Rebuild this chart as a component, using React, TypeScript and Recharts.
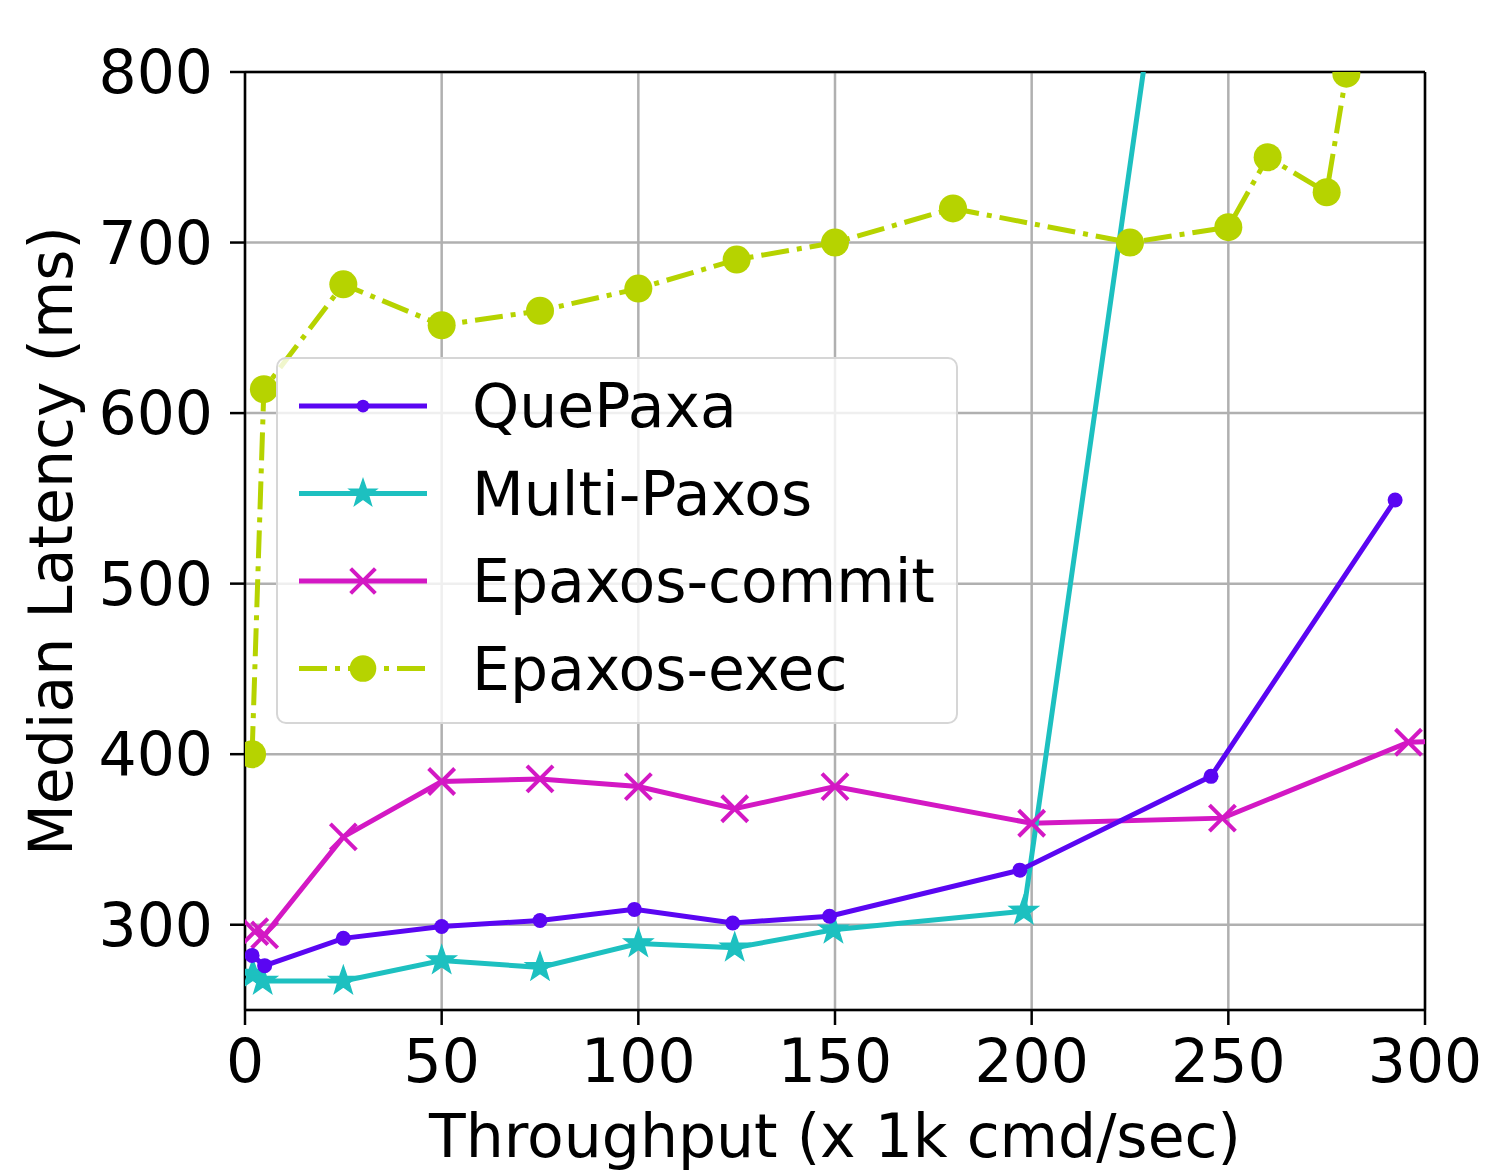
import React from 'react';
import { LineChart, Line, XAxis, YAxis, CartesianGrid, ReferenceLine } from 'recharts';

const xTicks = [0, 50, 100, 150, 200, 250, 300];
const yTicks = [300, 400, 500, 600, 700, 800];

const quepaxaX = [1.8, 5, 25, 50, 75, 99, 124, 148.6, 197, 245.6, 292.4];
const quepaxaY = [282, 276, 292, 299, 302.5, 309, 301, 305, 332, 387, 549];

const multiX = [2, 4.5, 25, 50, 75, 100, 124.5, 149.6, 198, 250];
const multiY = [271, 267, 267, 279, 275, 289, 286.5, 297, 308, 1150];

const commitX = [2.5, 5, 25, 50, 75, 100, 124.5, 150, 200, 248.5, 295.8, 310];
const commitY = [296, 294, 351.5, 384, 385.5, 381, 368, 381, 359.5, 362.5, 407, 408];

const execX = [1.8, 4.8, 25, 50, 75, 100, 125, 150, 180, 225, 250, 260, 275, 280];
const execY = [400, 614, 675.5, 651.5, 660, 673, 690, 700, 720, 700, 709, 750, 729.5, 799];

const seriesNames = ['QuePaxa', 'Multi-Paxos', 'Epaxos-commit', 'Epaxos-exec'];
const colors = ['#5a06f2', '#1dc0c0', '#d318c4', '#b6d300'];

const zip = (xs: number[], ys: number[]) => xs.map((x, i) => ({ x, y: ys[i] }));

const FONT = '"DejaVu Sans", sans-serif';
const LW = 5;

function starPoints(cx: number, cy: number, ro: number, ri: number) {
  const pts: string[] = [];
  for (let i = 0; i < 10; i++) {
    const r = i % 2 === 0 ? ro : ri;
    const a = -Math.PI / 2 + (i * Math.PI) / 5;
    pts.push(`${cx + r * Math.cos(a)},${cy + r * Math.sin(a)}`);
  }
  return pts.join(' ');
}

function Marker({ kind, cx, cy, color, scale = 1 }: { kind: number; cx: number; cy: number; color: string; scale?: number }) {
  if (kind === 0) return <circle cx={cx} cy={cy} r={7.5 * scale} fill={color} />;
  if (kind === 1) return <polygon points={starPoints(cx, cy, 15 * scale, 6 * scale)} fill={color} stroke={color} strokeWidth={1.5} />;
  if (kind === 2) {
    const s = 13 * scale;
    return (
      <g stroke={color} strokeWidth={4}>
        <line x1={cx - s} y1={cy - s} x2={cx + s} y2={cy + s} />
        <line x1={cx - s} y1={cy + s} x2={cx + s} y2={cy - s} />
      </g>
    );
  }
  return <circle cx={cx} cy={cy} r={14 * scale} fill={color} />;
}

const makeDot = (kind: number) => (props: any) => {
  const { cx, cy, index } = props;
  if (cx == null || cy == null) return <g key={`d${kind}-${index}`} />;
  return (
    <g key={`d${kind}-${index}`}>
      <Marker kind={kind} cx={cx} cy={cy} color={colors[kind]} />
    </g>
  );
};

const LegendBox = () => (
  <div
    style={{
      position: 'absolute',
      left: 276,
      top: 357,
      width: 682,
      height: 367,
      boxSizing: 'border-box',
      border: '2px solid #d6d6d6',
      borderRadius: 10,
      background: 'rgba(255,255,255,0.8)',
    }}
  >
    <svg width={680} height={365} style={{ position: 'absolute', left: 0, top: 0 }}>
      {seriesNames.map((name, i) => {
        const y = 47 + i * 87.5;
        return (
          <g key={name}>
            <line
              x1={21}
              y1={y}
              x2={149}
              y2={y}
              stroke={colors[i]}
              strokeWidth={LW}
              strokeDasharray={i === 3 ? '28 8 5 8' : undefined}
            />
            <Marker kind={i} cx={85} cy={y} color={colors[i]} scale={i === 0 ? 0.85 : 0.95} />
            <text x={194} y={y + 21} fontSize={60} fontFamily={FONT} fill="#000">
              {name}
            </text>
          </g>
        );
      })}
    </svg>
  </div>
);

export default function App() {
  return (
    <div style={{ position: 'absolute', left: 0, top: 0, width: 1487, height: 1170, background: '#fff' }}>
      <LineChart width={1487} height={1170} margin={{ top: 72, right: 62, left: 0, bottom: 0 }}>
        <CartesianGrid stroke="#b0b0b0" strokeWidth={2.5} />
        <XAxis
          type="number"
          dataKey="x"
          domain={[0, 300]}
          ticks={xTicks}
          allowDataOverflow
          height={160}
          axisLine={{ stroke: '#000', strokeWidth: 2.5 }}
          tickLine={{ stroke: '#000', strokeWidth: 2.5 }}
          tickSize={15}
          tickMargin={14}
          tick={{ fill: '#000', fontSize: 60, fontFamily: FONT }}
          label={(p: any) => {
            const vb = p.viewBox;
            return (
              <text x={vb.x + vb.width / 2} y={vb.y + 147} textAnchor="middle" fontSize={60} fontFamily={FONT} fill="#000">
                Throughput (x 1k cmd/sec)
              </text>
            );
          }}
        />
        <YAxis
          type="number"
          domain={[250, 800]}
          ticks={yTicks}
          allowDataOverflow
          width={245}
          axisLine={{ stroke: '#000', strokeWidth: 2.5 }}
          tickLine={{ stroke: '#000', strokeWidth: 2.5 }}
          tickSize={15}
          tickMargin={17}
          tick={{ fill: '#000', fontSize: 60, fontFamily: FONT }}
          label={(p: any) => {
            const vb = p.viewBox;
            const cx = 72;
            const cy = vb.y + vb.height / 2;
            return (
              <text x={cx} y={cy} transform={`rotate(-90, ${cx}, ${cy})`} textAnchor="middle" fontSize={60} fontFamily={FONT} fill="#000">
                Median Latency (ms)
              </text>
            );
          }}
        />
        <ReferenceLine y={800} stroke="#000" strokeWidth={2.5} />
        <ReferenceLine x={300} stroke="#000" strokeWidth={2.5} />
        <Line
          data={zip(execX, execY)}
          dataKey="y"
          name={seriesNames[3]}
          stroke={colors[3]}
          strokeWidth={LW}
          strokeDasharray="28 8 5 8"
          dot={makeDot(3)}
          isAnimationActive={false}
        />
        <Line
          data={zip(commitX, commitY)}
          dataKey="y"
          name={seriesNames[2]}
          stroke={colors[2]}
          strokeWidth={LW}
          dot={makeDot(2)}
          isAnimationActive={false}
        />
        <Line
          data={zip(multiX, multiY)}
          dataKey="y"
          name={seriesNames[1]}
          stroke={colors[1]}
          strokeWidth={LW}
          dot={makeDot(1)}
          isAnimationActive={false}
        />
        <Line
          data={zip(quepaxaX, quepaxaY)}
          dataKey="y"
          name={seriesNames[0]}
          stroke={colors[0]}
          strokeWidth={LW}
          dot={makeDot(0)}
          isAnimationActive={false}
        />
      </LineChart>
      <LegendBox />
    </div>
  );
}
